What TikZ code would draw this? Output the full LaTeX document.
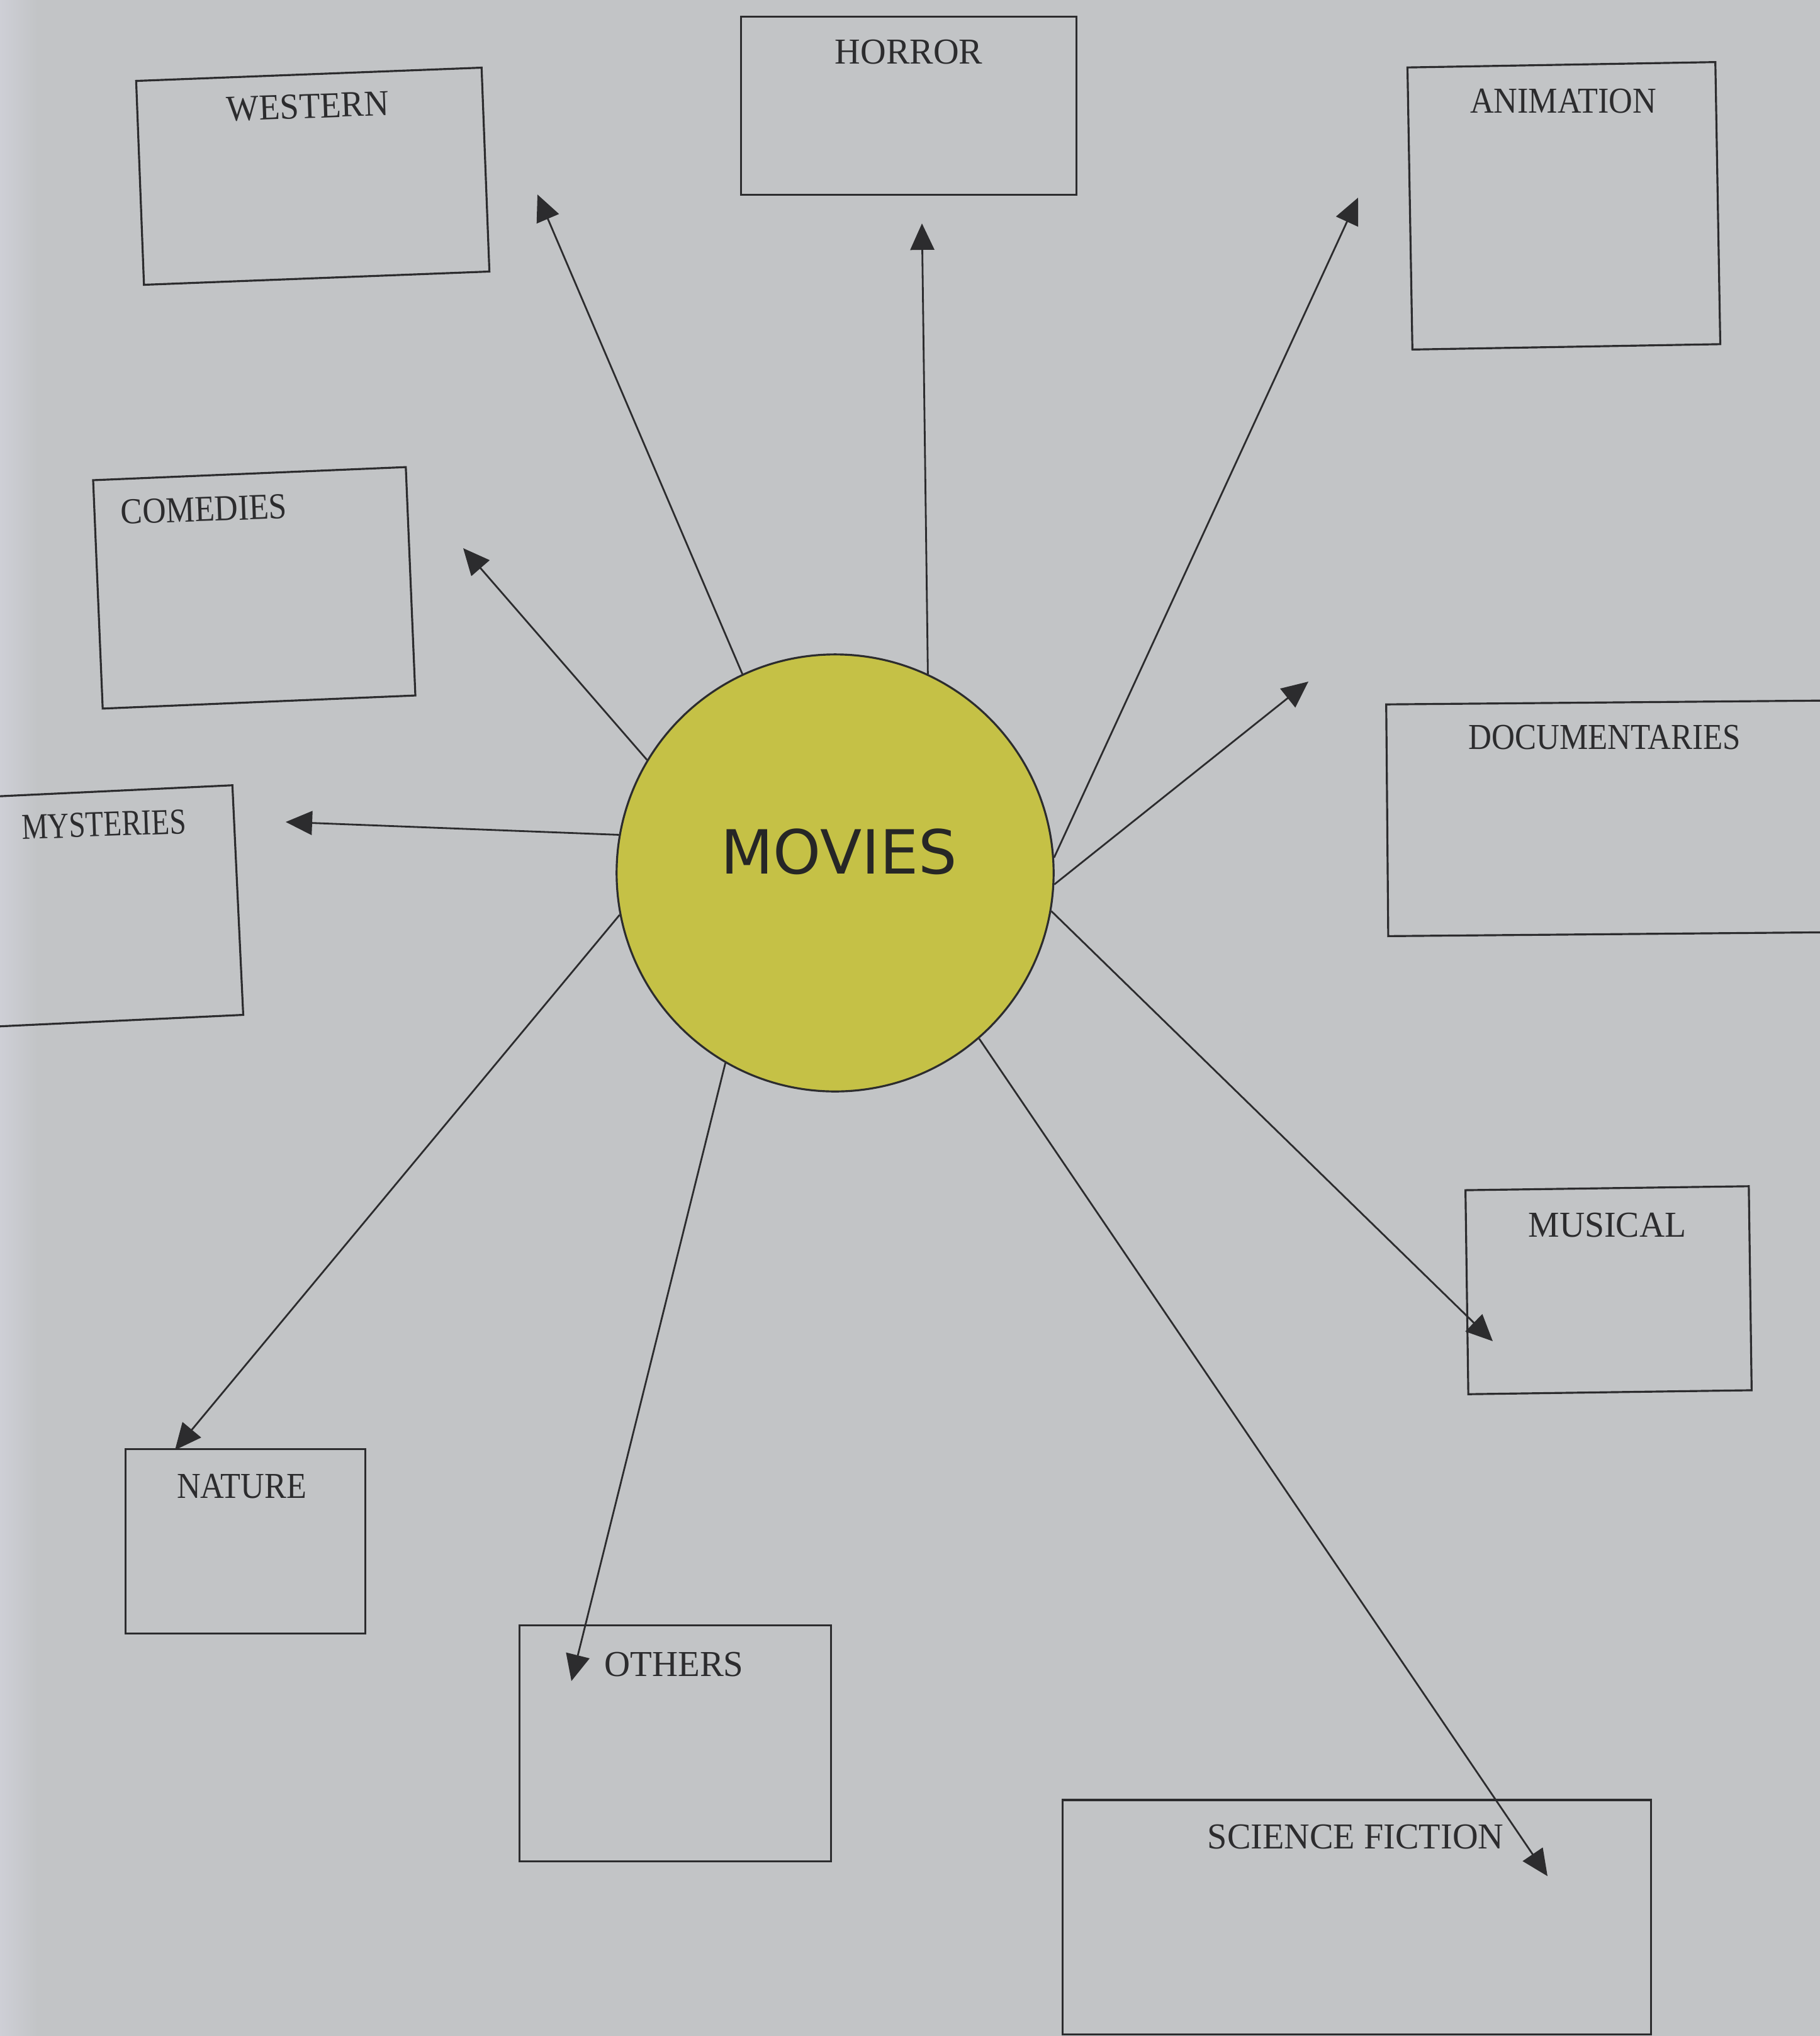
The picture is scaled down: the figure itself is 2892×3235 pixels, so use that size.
\documentclass[tikz,border=0pt]{standalone}
\usepackage{fontspec}
\setmainfont{Liberation Serif}
\newfontfamily\moviefont{DejaVu Sans}
\usetikzlibrary{arrows.meta}
\definecolor{paper}{RGB}{194,196,198}
\definecolor{paperlight}{RGB}{206,207,214}
\definecolor{ink}{RGB}{44,44,46}
\definecolor{sun}{RGB}{197,193,70}
\begin{document}
\begin{tikzpicture}[x=0.01cm,y=-0.01cm,
  gbox/.style={draw=ink, line width=0.9pt, inner sep=0pt},
  lbl/.style={text=ink, font=\fontsize{16.5}{18}\selectfont, inner sep=0pt},
  arr/.style={draw=ink, line width=0.8pt, -{Triangle[length=0.42cm,width=0.38cm]}}]
\useasboundingbox (0,0) rectangle (2892,3235);
\clip (0,0) rectangle (2892,3235);
\fill[paper] (0,0) rectangle (2892,3235);
\shade[left color=paperlight, right color=paper] (0,0) rectangle (60,3235);

% boxes
\node[gbox, minimum width=5.49cm, minimum height=3.24cm, rotate=2.2] (western) at (497,280) {};
\node[gbox, minimum width=5.32cm, minimum height=2.83cm] (horror) at (1444,168) {};
\node[gbox, minimum width=4.89cm, minimum height=4.48cm, rotate=1] (animation) at (2485,327) {};
\node[gbox, minimum width=4.97cm, minimum height=3.63cm, rotate=2.4] (comedies) at (404,934) {};
\node[gbox, minimum width=4.20cm, minimum height=3.65cm, rotate=2.7] (mysteries) at (168,1440) {};
\node[gbox, minimum width=7.55cm, minimum height=3.68cm, rotate=0.5] (documentaries) at (2582,1300) {};
\node[gbox, minimum width=4.50cm, minimum height=3.24cm, rotate=0.8] (musical) at (2556,2050) {};
\node[gbox, minimum width=3.80cm, minimum height=2.93cm] (nature) at (390,2449) {};
\node[gbox, minimum width=4.95cm, minimum height=3.75cm] (others) at (1073,2770) {};
\node[gbox, minimum width=9.34cm, minimum height=3.72cm] (scifi) at (2156,3046) {};

% labels
\node[lbl, rotate=2] (lwestern) at (489,169) {\scalebox{0.94}[1]{WESTERN}};
\node[lbl] (lhorror) at (1444,83) {\scalebox{0.97}[1]{HORROR}};
\node[lbl] (lanimation) at (2484,161) {\scalebox{0.90}[1]{ANIMATION}};
\node[lbl, rotate=2] (lcomedies) at (324,809) {\scalebox{0.89}[1]{COMEDIES}};
\node[lbl, rotate=2] (lmysteries) at (165,1310) {\scalebox{0.81}[1]{MYSTERIES}};
\node[lbl] (ldocumentaries) at (2550,1172) {\scalebox{0.88}[1]{DOCUMENTARIES}};
\node[lbl] (lmusical) at (2554,1947) {\scalebox{0.96}[1]{MUSICAL}};
\node[lbl] (lnature) at (384,2362) {\scalebox{0.90}[1]{NATURE}};
\node[lbl] (lothers) at (1071,2645) {\scalebox{0.98}[1]{OTHERS}};
\node[lbl] (lscifi) at (2154,2919) {\scalebox{0.97}[1]{SCIENCE FICTION}};

% centre
\node[circle, draw=ink, fill=sun, line width=0.9pt, minimum size=6.94cm, inner sep=0pt] (movies) at (1327,1387) {};
\node[text=black!85, font=\moviefont\fontsize{27.5}{30}\selectfont, inner sep=0pt] (moviestext) at (1333,1353) {MOVIES};

% arrow tips
\coordinate (tw) at (854,309);
\coordinate (th) at (1465,355);
\coordinate (ta) at (2158,314);
\coordinate (td) at (2079,1083);
\coordinate (tmu) at (2372,2131);
\coordinate (ts) at (2459,2981);
\coordinate (to) at (908,2671);
\coordinate (tn) at (278,2304);
\coordinate (tmy) at (454,1306);
\coordinate (tc) at (736,871);

\draw[arr] (movies.115.3) -- (tw);
\draw[arr] (movies.65.3) -- (th);
\draw[arr] (movies.4) -- (ta);
\draw[arr] (movies.-3.4) -- (td);
\draw[arr] (movies.-10.5) -- (tmu);
\draw[arr] (movies.-49.3) -- (ts);
\draw[arr] (movies.-120.4) -- (to);
\draw[arr] (movies.-169.8) -- (tn);
\draw[arr] (movies.170.1) -- (tmy);
\draw[arr] (movies.149.1) -- (tc);
\end{tikzpicture}
\end{document}
